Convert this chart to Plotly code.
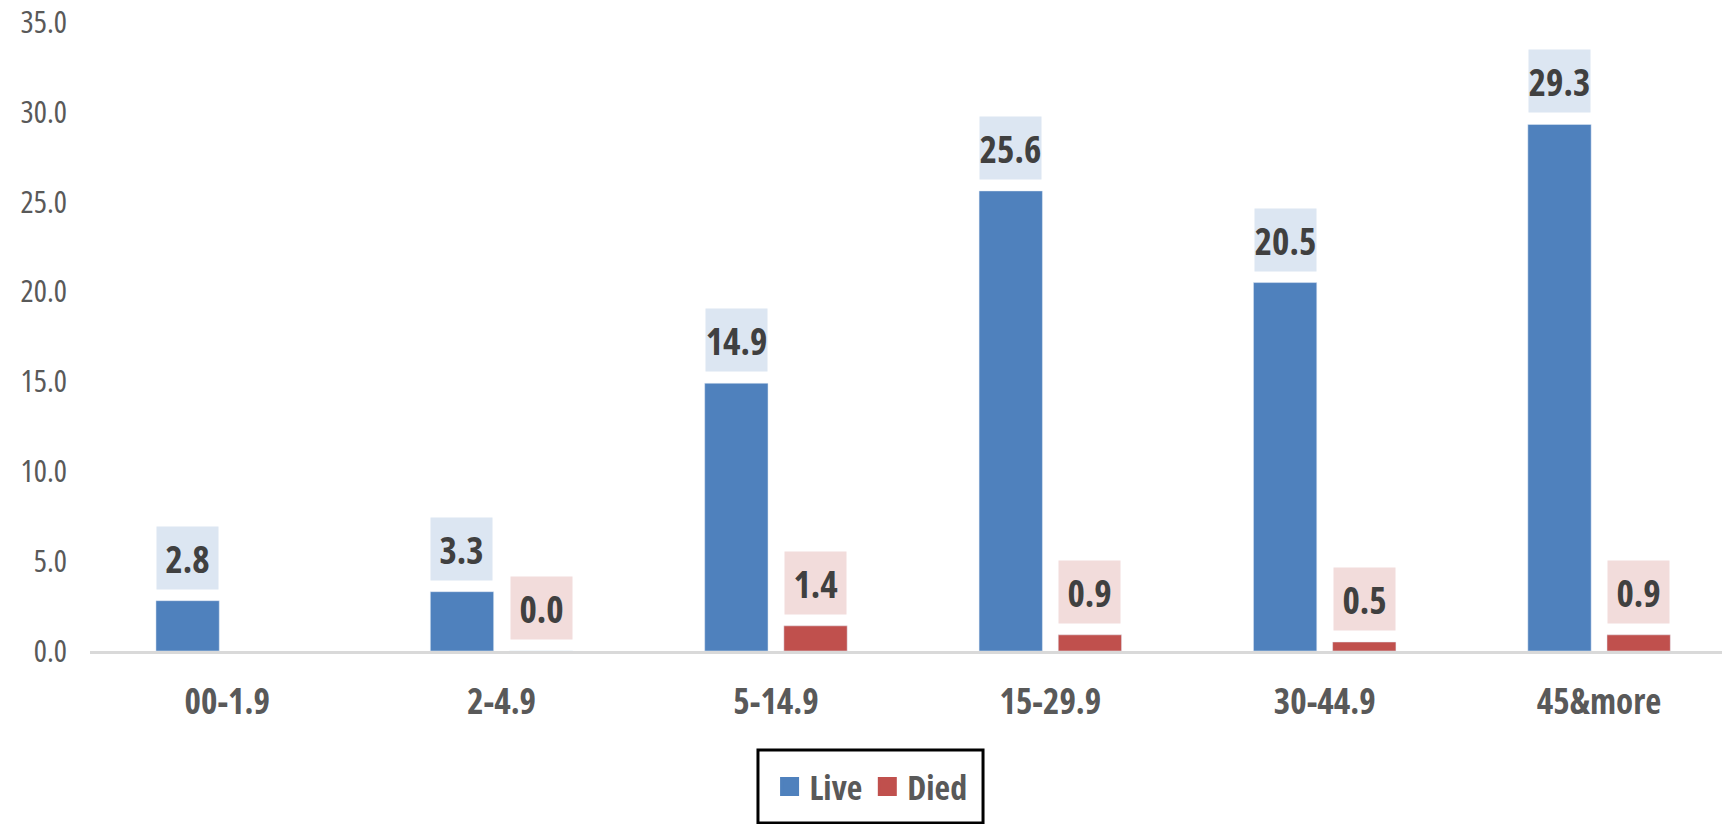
import plotly.graph_objects as go

categories = ["00-1.9", "2-4.9", "5-14.9", "15-29.9", "30-44.9", "45&more"]
live = [2.8, 3.3, 14.9, 25.6, 20.5, 29.3]
died = [None, 0.0, 1.4, 0.9, 0.5, 0.9]
y_ticks = [0, 5, 10, 15, 20, 25, 30, 35]

BLUE = "#4F81BD"
RED = "#C0504D"
BLUE_BOX = "#DCE6F2"
RED_BOX = "#F2DCDB"
FONT = "Open Sans"


def cond(s, bold=False):
    inner = f"<b>{s}</b>" if bold else s
    return f"<span style='font-stretch:condensed'>{inner}</span>"


xs = list(range(len(categories)))

fig = go.Figure()
fig.add_trace(go.Bar(x=xs, y=live, name="Live", marker_color=BLUE, showlegend=False))
fig.add_trace(go.Bar(x=xs, y=died, name="Died", marker_color=RED, showlegend=False))
# legend entries with larger square swatches
fig.add_trace(go.Scatter(x=[None], y=[None], mode="markers", name=cond("Live", True),
                         marker=dict(symbol="square", size=16, color=BLUE,
                                     line=dict(width=3, color=BLUE))))
fig.add_trace(go.Scatter(x=[None], y=[None], mode="markers", name=cond("Died", True),
                         marker=dict(symbol="square", size=16, color=RED,
                                     line=dict(width=3, color=RED))))

bargap = 0.423
bargroupgap = 0.2
slot = (1 - bargap) / 2
off = slot / 2

annotations = []
for series, sign, box in ((live, -1, BLUE_BOX), (died, 1, RED_BOX)):
    for i, v in enumerate(series):
        if v is None:
            continue
        annotations.append(dict(x=i + sign * off, y=v, xref="x", yref="y",
                                text=cond(f"{v:.1f}", True),
                                showarrow=False, yanchor="bottom", yshift=11,
                                width=61, height=62, bgcolor=box, borderpad=0,
                                font=dict(family=FONT, size=37, color="#404040")))

fig.update_layout(
    width=1722, height=824,
    margin=dict(l=90, r=0, t=22, b=173, autoexpand=False),
    paper_bgcolor="white", plot_bgcolor="white",
    barmode="group", bargap=bargap, bargroupgap=bargroupgap,
    annotations=annotations,
    legend=dict(orientation="h", x=0.4786, xanchor="center", y=-0.2162, yanchor="middle",
                borderwidth=0, bgcolor="rgba(0,0,0,0)",
                font=dict(family=FONT, size=34, color="#595959")),
    shapes=[dict(type="rect", xref="paper", yref="paper",
                 x0=0.4093, x1=0.5472, y0=-0.2734, y1=-0.1574,
                 line=dict(color="black", width=3), fillcolor="rgba(0,0,0,0)")],
    font=dict(family=FONT),
)
fig.update_xaxes(range=[-0.5, 5.448], tickmode="array", tickvals=xs,
                 ticktext=[cond(c, True) for c in categories],
                 tickfont=dict(family=FONT, size=35, color="#595959"),
                 showgrid=False, zeroline=False, showline=True, linecolor="#D9D9D9",
                 linewidth=3, ticks="", ticklabelstandoff=18, automargin=False)
fig.update_yaxes(range=[0, 35], tickmode="array", tickvals=y_ticks,
                 ticktext=[cond(f"{t:.1f}") for t in y_ticks],
                 tickfont=dict(family=FONT, size=31, color="#595959"),
                 showgrid=False, zeroline=False, showline=False, ticks="",
                 ticklabelstandoff=22, ticklabeloverflow="allow", automargin=False)

fig.write_html("out.html", config={"displayModeBar": False},
               post_script="document.body.style.margin='0px';document.body.style.padding='0px';")
